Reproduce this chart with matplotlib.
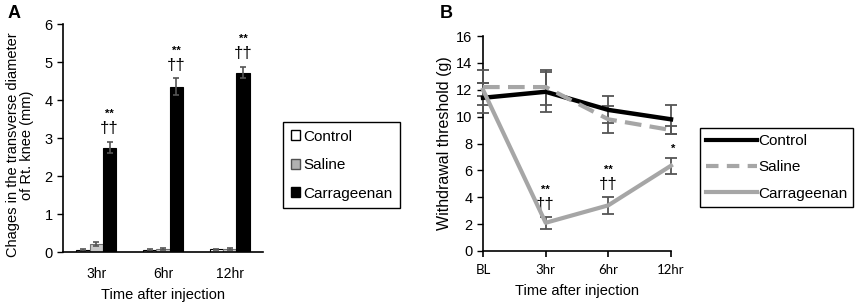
import matplotlib.pyplot as plt
import numpy as np
from matplotlib.patches import Patch
from matplotlib.lines import Line2D

plt.rcParams["font.family"] = ["Liberation Sans", "DejaVu Sans"]

# panel A data
times_a = ["3hr", "6hr", "12hr"]
groups = ["Control", "Saline", "Carrageenan"]
control_a = [0.05, 0.05, 0.07]
control_a_err = [0.02, 0.02, 0.02]
saline_a = [0.22, 0.07, 0.08]
saline_a_err = [0.05, 0.03, 0.03]
carr_a = [2.75, 4.35, 4.72]
carr_a_err = [0.15, 0.22, 0.15]
marks_a = [("**", "††"), ("**", "††"), ("**", "††")]

# panel B data
times_b = ["BL", "3hr", "6hr", "12hr"]
control_b = [11.4, 11.85, 10.5, 9.8]
control_b_err = [1.1, 1.5, 1.0, 1.1]
saline_b = [12.2, 12.2, 9.8, 9.0]
saline_b_err = [1.3, 1.3, 1.0, 0.3]
carr_b = [12.0, 2.1, 3.4, 6.35]
carr_b_err = [0.5, 0.45, 0.65, 0.6]
marks_b = [None, ("**", "††"), ("**", "††"), ("*", "")]

fig = plt.figure(figsize=(8.65, 3.04), dpi=100)

# ---- A ----
axA = fig.add_axes([63 / 865, 1 - 252 / 304, 200 / 865, 228 / 304])
x = np.arange(len(times_a))
w = 0.2
err_kw = dict(ecolor="#555555", capsize=2.5, elinewidth=1.2, capthick=1.2)
axA.bar(x - w, control_a, w, yerr=control_a_err, color="white",
        edgecolor="black", linewidth=0.8, error_kw=err_kw)
axA.bar(x, saline_a, w, yerr=saline_a_err, color="#c8c8c8",
        edgecolor="#707070", linewidth=0.8, error_kw=err_kw)
axA.bar(x + w, carr_a, w, yerr=carr_a_err, color="black",
        edgecolor="black", linewidth=0.8, error_kw=err_kw)
for i, (m1, m2) in enumerate(marks_a):
    top = carr_a[i] + carr_a_err[i]
    axA.text(x[i] + w, top + 0.15, m2, ha="center", va="bottom", fontsize=12)
    axA.text(x[i] + w, top + 0.6, m1, ha="center", va="bottom", fontsize=8,
             fontweight="bold")
axA.set_xlim(-0.5, 2.5)
axA.set_ylim(0, 6)
axA.set_xticks(x)
axA.set_xticklabels(times_a)
axA.tick_params(axis="x", length=0, labelsize=10, pad=11)
axA.tick_params(axis="y", length=4, labelsize=10.5, width=1)
axA.spines["top"].set_visible(False)
axA.spines["right"].set_visible(False)
axA.spines["left"].set_linewidth(1.2)
axA.spines["bottom"].set_linewidth(1.2)
axA.set_xlabel("Time after injection", fontsize=10.5, labelpad=5)
axA.set_ylabel("Chages in the transverse diameter\nof Rt. knee (mm)",
               fontsize=10.5, labelpad=6, linespacing=1.0)
axA.yaxis.set_label_coords(-0.145, 0.47)

handles_a = [
    Patch(facecolor="white", edgecolor="black", label="Control"),
    Patch(facecolor="#b0b0b0", edgecolor="#505050", label="Saline"),
    Patch(facecolor="black", edgecolor="black", label="Carrageenan"),
]
legA = fig.legend(handles=handles_a, loc="upper left",
                  bbox_to_anchor=(283 / 865, 1 - 122 / 304), fontsize=11,
                  handlelength=0.6, handleheight=0.6, handletextpad=0.2,
                  labelspacing=0.95, borderpad=0.5, fancybox=False,
                  edgecolor="black", framealpha=1, borderaxespad=0)
legA.get_frame().set_linewidth(1.0)

# ---- B ----
axB = fig.add_axes([483 / 865, 1 - 251 / 304, 188 / 865, 215 / 304])
xb = np.arange(len(times_b))
gray = "#a6a6a6"
ekw = dict(ecolor="#555555", capsize=4, elinewidth=1.3, capthick=1.3)
axB.errorbar(xb, control_b, yerr=control_b_err, color="black", lw=3.2,
             clip_on=False, zorder=3, **ekw)
axB.errorbar(xb, saline_b, yerr=saline_b_err, color=gray, lw=3,
             dashes=(4, 2), clip_on=False, zorder=3, **ekw)
axB.errorbar(xb, carr_b, yerr=carr_b_err, color=gray, lw=3,
             clip_on=False, zorder=3, **ekw)
for i, m in enumerate(marks_b):
    if m is None:
        continue
    top = carr_b[i] + carr_b_err[i]
    if m[1]:
        axB.text(xb[i], top + 0.35, m[1], ha="center", va="bottom", fontsize=12)
        axB.text(xb[i], top + 1.6, m[0], ha="center", va="bottom",
                 fontsize=8, fontweight="bold")
    else:
        axB.text(xb[i] + 0.03, top + 0.25, m[0], ha="center", va="bottom",
                 fontsize=8, fontweight="bold")
axB.set_xlim(0, 3)
axB.set_ylim(0, 16)
axB.set_yticks(range(0, 17, 2))
axB.set_xticks(xb)
axB.set_xticklabels(times_b, fontfamily="Lato", fontsize=9.5)
axB.tick_params(axis="x", length=4, width=1.2, pad=5)
axB.tick_params(axis="y", length=4, labelsize=10.5, width=1)
axB.spines["top"].set_visible(False)
axB.spines["right"].set_visible(False)
axB.spines["left"].set_linewidth(1.2)
axB.spines["bottom"].set_linewidth(1.2)
axB.set_xlabel("Time after injection", fontsize=10.5, labelpad=6)
axB.set_ylabel("Withdrawal threshold (g)", fontsize=11.5, labelpad=3)

handles_b = [
    Line2D([], [], color="black", lw=3, label="Control"),
    Line2D([], [], color=gray, lw=3, dashes=(3, 2), label="Saline"),
    Line2D([], [], color=gray, lw=3, label="Carrageenan"),
]
legB = fig.legend(handles=handles_b, loc="upper left",
                  bbox_to_anchor=(700 / 865, 1 - 128 / 304), fontsize=11,
                  handlelength=3.3, handletextpad=0.1, labelspacing=0.8,
                  borderpad=0.4, fancybox=False, edgecolor="black",
                  framealpha=1, borderaxespad=0)
legB.get_frame().set_linewidth(1.0)

fig.text(8 / 865, 1 - 14 / 304, "A", fontsize=13, fontweight="bold",
         va="center")
fig.text(440 / 865, 1 - 14 / 304, "B", fontsize=13, fontweight="bold",
         va="center")

fig.savefig("out.png", dpi=100)
